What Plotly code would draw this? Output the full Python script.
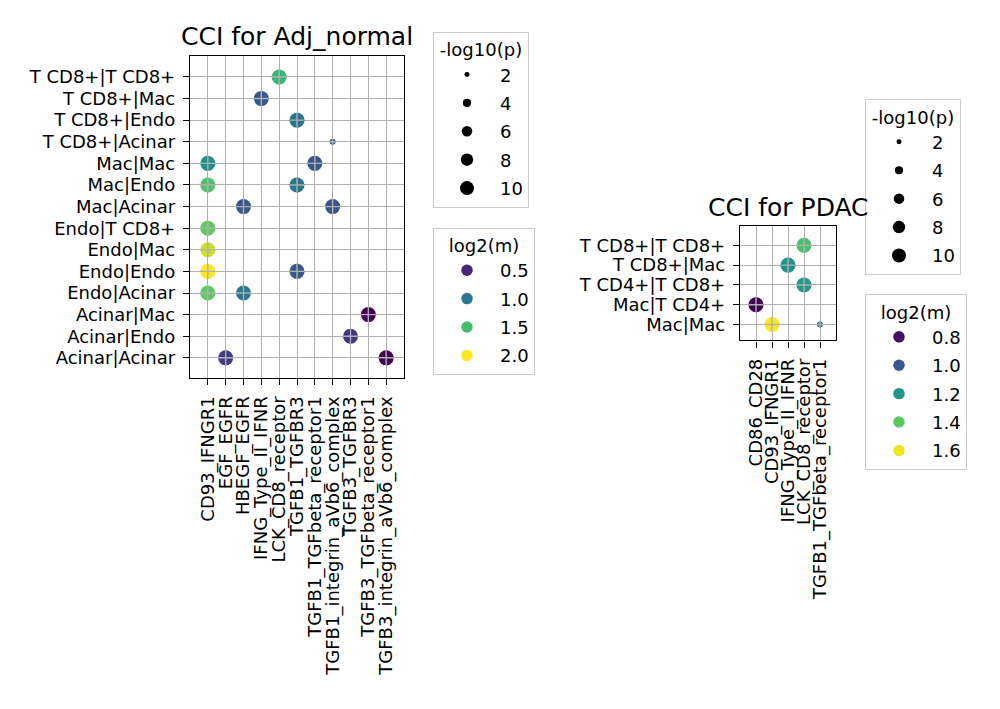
import math

import plotly.colors as pc
import plotly.graph_objects as go

# -------------------------
# DATA
# -------------------------
adj_rows = [
    "T CD8+|T CD8+", "T CD8+|Mac", "T CD8+|Endo", "T CD8+|Acinar",
    "Mac|Mac", "Mac|Endo", "Mac|Acinar",
    "Endo|T CD8+", "Endo|Mac", "Endo|Endo", "Endo|Acinar",
    "Acinar|Mac", "Acinar|Endo", "Acinar|Acinar",
]
adj_cols = [
    "CD93_IFNGR1", "EGF_EGFR", "HBEGF_EGFR", "IFNG_Type_II_IFNR",
    "LCK_CD8_receptor", "TGFB1_TGFBR3", "TGFB1_TGFbeta_receptor1",
    "TGFB1_integrin_aVb6_complex", "TGFB3_TGFBR3",
    "TGFB3_TGFbeta_receptor1", "TGFB3_integrin_aVb6_complex",
]
adj_pair = [
    "T CD8+|T CD8+", "T CD8+|Mac", "T CD8+|Endo", "T CD8+|Acinar",
    "Mac|Mac", "Mac|Mac", "Mac|Endo", "Mac|Endo", "Mac|Acinar", "Mac|Acinar",
    "Endo|T CD8+", "Endo|Mac", "Endo|Endo", "Endo|Endo",
    "Endo|Acinar", "Endo|Acinar",
    "Acinar|Mac", "Acinar|Endo", "Acinar|Acinar", "Acinar|Acinar",
]
adj_lr = [
    "LCK_CD8_receptor", "IFNG_Type_II_IFNR", "TGFB1_TGFBR3",
    "TGFB1_integrin_aVb6_complex",
    "CD93_IFNGR1", "TGFB1_TGFbeta_receptor1", "CD93_IFNGR1", "TGFB1_TGFBR3",
    "HBEGF_EGFR", "TGFB1_integrin_aVb6_complex",
    "CD93_IFNGR1", "CD93_IFNGR1", "CD93_IFNGR1", "TGFB1_TGFBR3",
    "CD93_IFNGR1", "HBEGF_EGFR",
    "TGFB3_TGFbeta_receptor1", "TGFB3_TGFBR3", "EGF_EGFR",
    "TGFB3_integrin_aVb6_complex",
]
adj_log2m = [
    1.45, 0.78, 0.97, 0.80,
    1.17, 0.78, 1.53, 0.97, 0.78, 0.78,
    1.58, 1.87, 2.00, 0.80,
    1.58, 1.00,
    0.33, 0.58, 0.63, 0.33,
]
adj_nlog10p = [
    11.4, 11.4, 11.4, 2.5,
    11.4, 11.4, 11.4, 11.4, 11.4, 11.4,
    11.4, 11.4, 11.8, 11.4,
    11.4, 11.4,
    11.4, 11.4, 11.4, 11.4,
]

pdac_rows = ["T CD8+|T CD8+", "T CD8+|Mac", "T CD4+|T CD8+", "Mac|T CD4+", "Mac|Mac"]
pdac_cols = [
    "CD86_CD28", "CD93_IFNGR1", "IFNG_Type_II_IFNR",
    "LCK_CD8_receptor", "TGFB1_TGFbeta_receptor1",
]
pdac_pair = ["T CD8+|T CD8+", "T CD8+|Mac", "T CD4+|T CD8+", "Mac|T CD4+", "Mac|Mac", "Mac|Mac"]
pdac_lr = [
    "LCK_CD8_receptor", "IFNG_Type_II_IFNR", "LCK_CD8_receptor",
    "CD86_CD28", "CD93_IFNGR1", "TGFB1_TGFbeta_receptor1",
]
pdac_log2m = [1.37, 1.20, 1.23, 0.76, 1.62, 1.07]
pdac_nlog10p = [11.4, 11.4, 11.4, 11.4, 11.4, 2.5]

size_ticks = [2, 4, 6, 8, 10]
adj_color_ticks = [0.5, 1.0, 1.5, 2.0]
pdac_color_ticks = [0.8, 1.0, 1.2, 1.4, 1.6]

FONT = "DejaVu Sans"
GRID = "#b0b0b0"


def dot_size(v):
    # area grows linearly with -log10(p), like seaborn's size mapping
    return math.sqrt(21.4 * v - 18)


def viridis(v, lo, hi):
    t = (v - lo) / (hi - lo)
    return pc.sample_colorscale("Viridis", [min(max(t, 0), 1)])[0]


fig = go.Figure()


def add_panel(xa, ya, pair, lr, log2m, nlog10p, leg_size, leg_color, color_ticks):
    lo, hi = min(log2m), max(log2m)
    sizes = [dot_size(v) for v in nlog10p]
    fig.add_trace(go.Scatter(
        x=lr, y=pair, mode="markers", xaxis=xa, yaxis=ya, showlegend=False,
        marker=dict(size=sizes, color=log2m, colorscale="Viridis", opacity=1,
                    cmin=lo, cmax=hi, line=dict(width=0)),
    ))
    # grid crosses drawn over the dots, as in the original
    fig.add_trace(go.Scatter(
        x=lr, y=pair, mode="markers", xaxis=xa, yaxis=ya, showlegend=False,
        hoverinfo="skip",
        marker=dict(symbol="cross-thin-open", size=[s / 1.4 for s in sizes],
                    color=GRID, opacity=1, line=dict(color=GRID, width=1.4)),
    ))
    # size legend
    for i, v in enumerate(size_ticks):
        fig.add_trace(go.Scatter(
            x=[None], y=[None], mode="markers", xaxis=xa, yaxis=ya,
            name=str(v), legend=leg_size, legendgroup=f"{leg_size}{i}",
            marker=dict(size=dot_size(v), color="black"),
        ))
    # colour legend
    for i, v in enumerate(color_ticks):
        fig.add_trace(go.Scatter(
            x=[None], y=[None], mode="markers", xaxis=xa, yaxis=ya,
            name=f"{v:.1f}", legend=leg_color, legendgroup=f"{leg_color}{i}",
            marker=dict(size=dot_size(7), color=viridis(v, lo, hi)),
        ))


add_panel("x", "y", adj_pair, adj_lr, adj_log2m, adj_nlog10p,
          "legend", "legend2", adj_color_ticks)
add_panel("x2", "y2", pdac_pair, pdac_lr, pdac_log2m, pdac_nlog10p,
          "legend3", "legend4", pdac_color_ticks)

axis_style = dict(
    type="category", showline=True, mirror=True, linecolor="black", linewidth=1.4,
    ticks="outside", ticklen=6, tickwidth=1.4, tickcolor="black",
    showgrid=True, gridcolor=GRID, gridwidth=1.4, zeroline=False,
    tickfont=dict(family=FONT, size=18, color="black"), ticklabelstandoff=4,
    categoryorder="array", tickmode="array",
)

legend_style = dict(
    bgcolor="white", bordercolor="#cccccc", borderwidth=1,
    font=dict(family=FONT, size=18, color="black"),
    xanchor="left", yanchor="top", traceorder="grouped", tracegroupgap=2,
    itemwidth=56,
)


def legend_at(x, y, title):
    return dict(legend_style, x=x, y=y,
                title=dict(text=title, side="top center",
                           font=dict(family=FONT, size=18, color="black")))


fig.update_layout(
    width=1000, height=709,
    margin=dict(l=0, r=0, t=0, b=0),
    paper_bgcolor="white", plot_bgcolor="white",
    font=dict(family=FONT, size=18, color="black"),
    xaxis=dict(axis_style, domain=[0.19, 0.404], categoryarray=adj_cols,
               tickvals=adj_cols, ticktext=adj_cols,
               range=[-1, 11], tickangle=-90, anchor="y"),
    yaxis=dict(axis_style, domain=[0.467, 0.921], categoryarray=adj_rows,
               tickvals=adj_rows, ticktext=adj_rows,
               range=[13.93, -0.97], anchor="x"),
    xaxis2=dict(axis_style, domain=[0.74, 0.836], categoryarray=pdac_cols,
                tickvals=pdac_cols, ticktext=pdac_cols,
                range=[-1, 5], tickangle=-90, anchor="y2"),
    yaxis2=dict(axis_style, domain=[0.520, 0.681], categoryarray=pdac_rows,
                tickvals=pdac_rows, ticktext=pdac_rows,
                range=[4.8, -0.97], anchor="x2"),
    legend=legend_at(0.433, 0.955, "-log10(p)"),
    legend2=legend_at(0.433, 0.679, "log2(m)"),
    legend3=legend_at(0.865, 0.860, "-log10(p)"),
    legend4=legend_at(0.865, 0.585, "log2(m)"),
    showlegend=True,
    annotations=[
        dict(text="CCI for Adj_normal", xref="x domain", yref="paper",
             x=0.5, y=1 - 36 / 709, xanchor="center", yanchor="middle",
             showarrow=False, font=dict(family=FONT, size=25, color="black")),
        dict(text="CCI for PDAC", xref="x2 domain", yref="paper",
             x=0.5, y=1 - 207 / 709, xanchor="center", yanchor="middle",
             showarrow=False, font=dict(family=FONT, size=25, color="black")),
    ],
)

# page body has a default 8px margin; drop it so the figure sits at the top-left
fig.write_html(
    "out.html",
    config={"displayModeBar": False},
    post_script="document.body.style.margin = '0';",
)
